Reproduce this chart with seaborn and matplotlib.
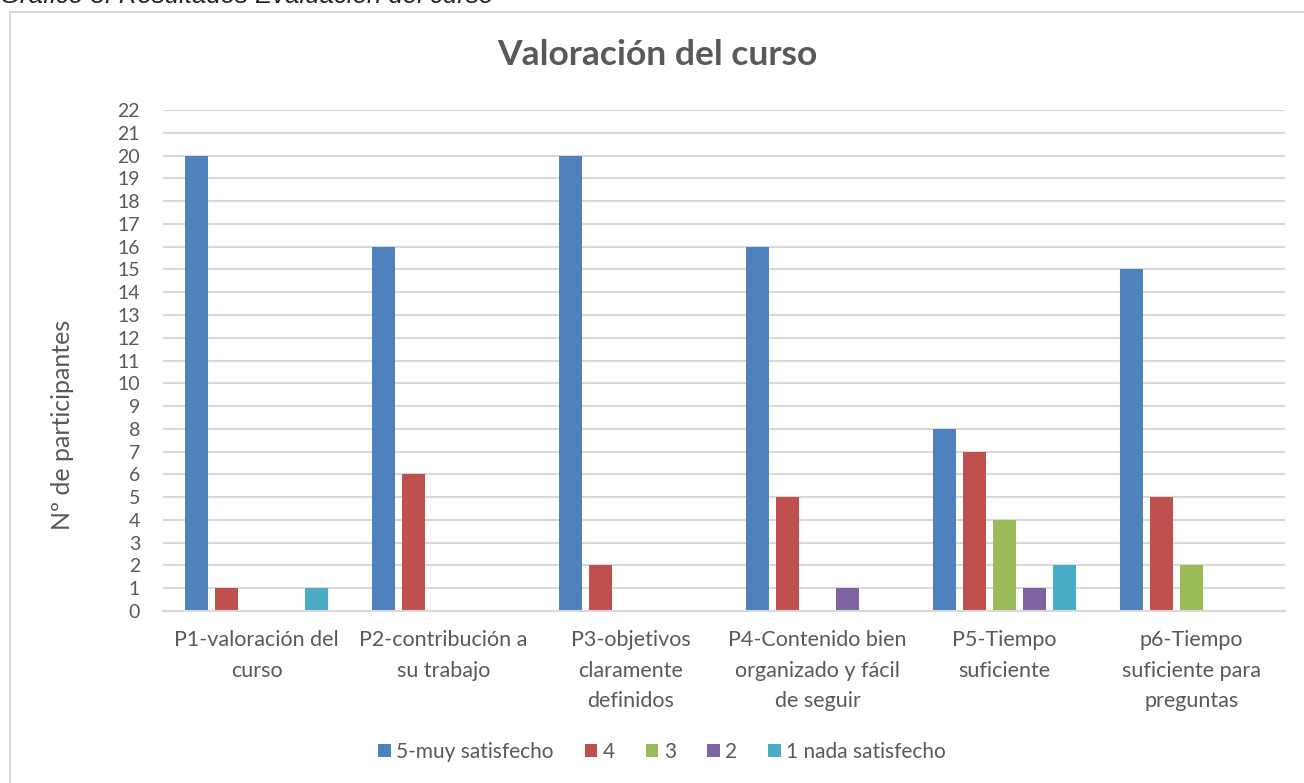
import matplotlib
matplotlib.use("Agg")
import matplotlib.pyplot as plt
import seaborn as sns
import pandas as pd
from matplotlib.patches import Rectangle, Patch

categories = ["P1-valoración del\ncurso", "P2-contribución a\nsu trabajo",
              "P3-objetivos\nclaramente\ndefinidos",
              "P4-Contenido bien\norganizado y fácil\nde seguir",
              "P5-Tiempo\nsuficiente", "p6-Tiempo\nsuficiente para\npreguntas"]
series = ["5-muy satisfecho", "4", "3", "2", "1 nada satisfecho"]
v5 = [20, 16, 20, 16, 8, 15]
v4 = [1, 6, 2, 5, 7, 5]
v3 = [0, 0, 0, 0, 4, 2]
v2 = [0, 0, 0, 1, 1, 0]
v1 = [1, 0, 0, 0, 2, 0]
colors = ["#4F81BD", "#C0504D", "#9BBB59", "#8064A2", "#4BACC6"]

rows = []
for s, vals in zip(series, [v5, v4, v3, v2, v1]):
    for c, v in zip(categories, vals):
        rows.append({"cat": c, "serie": s, "val": v})
df = pd.DataFrame(rows)

sns.set_theme(style="white")
plt.rcParams["font.family"] = ["Lato", "DejaVu Sans"]
txt = "#595959"

fig = plt.figure(figsize=(13.04, 7.83), dpi=100)
ax = fig.add_axes([163/1304, 1-611/783, (1285-163)/1304, (611-110)/783])
sns.barplot(data=df, x="cat", y="val", hue="serie", order=categories,
            hue_order=series, palette=colors, saturation=1, width=0.8, gap=0.25,
            linewidth=0, ax=ax, legend=False)
ax.set_ylim(0, 22)
ax.set_xlim(-0.5, 5.5)
ax.set_yticks(range(0, 23))
ax.grid(axis="y", color="#D9D9D9", linewidth=1.5)
ax.set_axisbelow(True)
for sp in ["left", "right", "top"]:
    ax.spines[sp].set_visible(False)
ax.spines["bottom"].set_color("#D9D9D9")
ax.spines["bottom"].set_linewidth(1.5)
ax.set_xlabel("")
ax.set_ylabel("")
ax.tick_params(axis="y", length=0, labelsize=14, labelcolor=txt, pad=16.5)
ax.set_xticks([i - 0.5 for i in range(7)], minor=True)
ax.tick_params(axis="x", which="minor", length=9, width=1.5, color="#D9D9D9", direction="out")
ax.tick_params(axis="x", which="major", length=0, labelsize=15.5, labelcolor=txt, pad=14)
ax.set_xticklabels(categories, linespacing=1.63)

fig.text(657/1304, 1-55/783, "Valoración del curso", ha="center", va="center",
         fontsize=25.5, fontweight="bold", color=txt)
fig.text(62/1304, 1-425/783, "Nº de participantes", rotation=90, ha="center",
         va="center", fontsize=18, color=txt)
fig.text(0.0, 1-3/783, "Gráfico 3. Resultados Evaluación del curso", ha="left",
         va="baseline", fontsize=18.5, style="italic", color="#222222",
         family=["Liberation Sans", "DejaVu Sans"])

fig.patches.append(Rectangle((10/1304, -0.05), 1.1, 1-12/783+0.05,
                             transform=fig.transFigure, fill=False,
                             edgecolor="#D9D9D9", linewidth=1.5, zorder=-1))

handles = [Patch(facecolor=c, edgecolor="none") for c in colors]
fig.legend(handles, series, loc="center", bbox_to_anchor=(662/1304, 1-752/783),
           ncol=5, frameon=False, fontsize=15, handlelength=0.6, handleheight=0.6,
           handletextpad=0.25, columnspacing=1.5, labelcolor=txt)

fig.savefig("out.png", dpi=100)
